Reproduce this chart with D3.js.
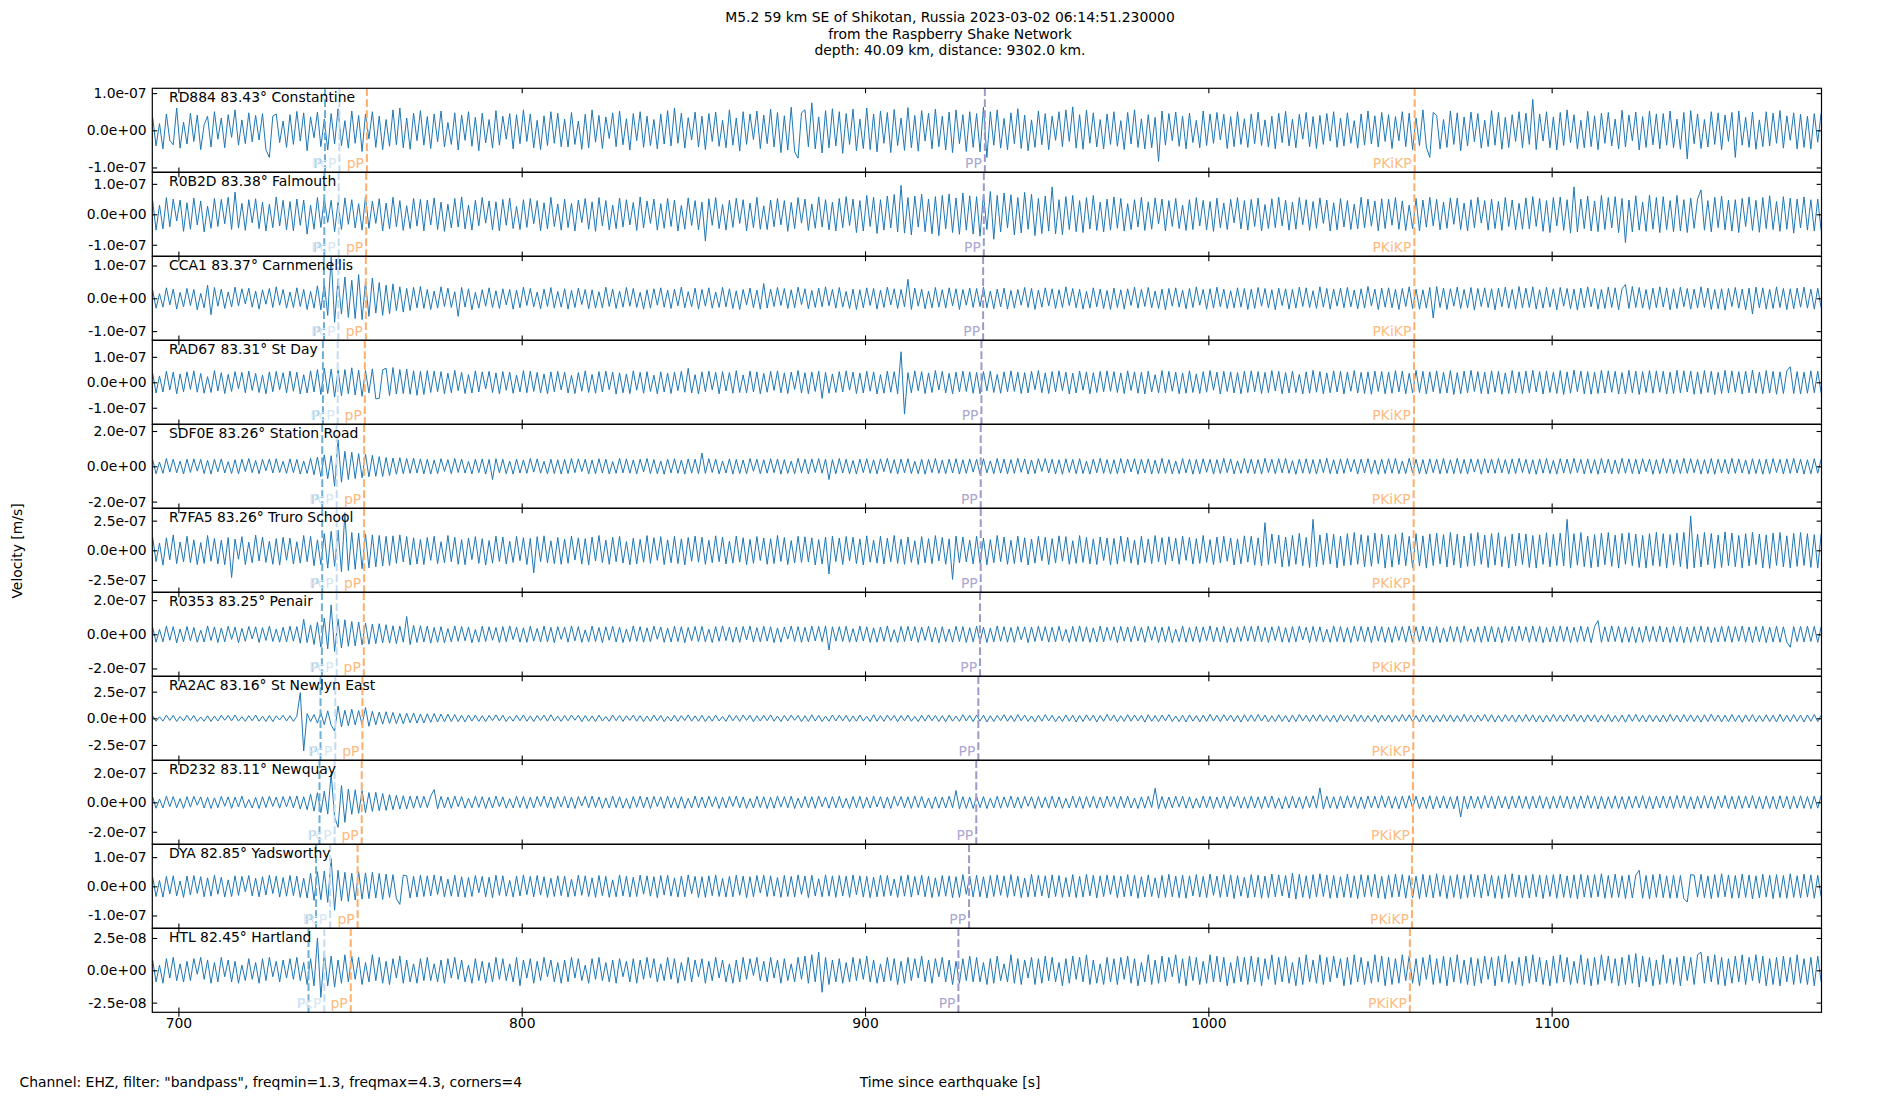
<!DOCTYPE html>
<html>
<head>
<meta charset="utf-8">
<title>M5.2 59 km SE of Shikotan - Raspberry Shake traces</title>
<script src="https://d3js.org/d3.v7.min.js"></script>
<style>
  body { margin: 0; background: #fff; }
  text { font-family: "DejaVu Sans", sans-serif; }
</style>
</head>
<body>
<svg id="chart" width="1900" height="1100"></svg>

<script>
// stations, top to bottom
const stations = ["RD884", "R0B2D", "CCA1", "RAD67", "SDF0E", "R7FA5", "R0353", "RA2AC", "RD232", "DYA", "HTL"];
const distances = ["83.43", "83.38", "83.37", "83.31", "83.26", "83.26", "83.25", "83.16", "83.11", "82.85", "82.45"];
const places = ["Constantine", "Falmouth", "Carnmenellis", "St Day", "Station Road", "Truro School",
                "Penair", "St Newlyn East", "Newquay", "Yadsworthy", "Hartland"];

// half range of each panel and its tick value, nm/s
const yLimits = [113, 138, 128, 165, 238, 354, 246, 394, 285, 144, 32.5];
const yTickValues = [100, 100, 100, 100, 200, 250, 200, 250, 200, 100, 25];

const xTicks = [700, 800, 900, 1000, 1100];

// phase arrivals per station [s since earthquake]
const timesP     = [742.7, 742.5, 742.4, 742.1, 741.9, 741.9, 741.8, 741.4, 741.1, 740.1, 737.9];
const timesPcP   = [746.9, 746.7, 746.6, 746.4, 746.1, 746.1, 746.1, 745.7, 745.5, 744.2, 742.5];
const timespP    = [754.9, 754.7, 754.6, 754.3, 754.1, 754.1, 754.0, 753.6, 753.4, 752.2, 750.2];
const timesPP    = [934.9, 934.6, 934.4, 933.9, 933.7, 933.7, 933.5, 933.0, 932.4, 930.3, 927.2];
const timesPKiKP = [1060.1, 1060.0, 1060.0, 1059.9, 1059.8, 1059.8, 1059.8, 1059.7, 1059.6, 1059.3, 1058.7];

const phaseNames = ["P", "PcP", "pP", "PP", "PKiKP"];
const phaseLineColors = ["#6baed6", "#c6dbef", "#fdae6b", "#9e9ac8", "#fdae6b"];
const phaseTextColors = ["#9ecae1", "#d6e6f4", "#fdb87c", "#aba7d2", "#fdbb80"];

// trace peaks in nm/s, one value per second starting at 692.5 s (40 s per row)
const traceStart = 692.5, traceStep = 1;

const traceRD884 = [
  35,-42,18,-50,44,-27,-39,60,-48,22,-37,46,-30,41,-52,15,38,-45,50,-24,33,-47,42,-19,55,-40,28,-36,47,-31,40,-26,45,-52,-73,38,44,-33,25,-46,
  42,-38,51,-29,47,-55,36,-20,49,-44,30,-53,45,-37,58,-41,26,-48,52,-35,40,-57,44,-23,50,-46,38,-52,29,-43,55,-39,60,-47,33,-51,46,-28,53,-40,
  37,-49,44,-31,52,-45,21,-38,47,-53,41,-27,50,-43,35,-55,46,-34,29,-48,53,-40,38,-24,45,-50,42,-36,55,-30,44,-47,27,-52,39,-41,50,-35,46,-44,
  30,-45,48,-38,25,-51,43,-47,55,-32,40,-49,36,-22,47,-44,52,-39,31,-53,45,-28,50,-46,38,-41,29,-50,44,-37,53,-42,60,-35,46,-48,34,-26,49,-45,
  38,-52,45,-30,49,-43,27,-47,55,-40,33,-56,50,-38,44,-25,52,-49,41,-36,57,-45,48,-60,39,-53,62,-58,-75,47,55,-44,74,-50,36,-61,53,-47,58,-42,
  50,-62,45,-38,57,-55,30,-49,60,-52,44,-58,52,-35,48,-60,56,-41,33,-54,61,-47,40,-56,53,-29,46,-50,57,-44,38,-53,49,-60,55,-36,42,-57,50,-46,
  45,-58,62,-73,50,-40,55,-48,32,-52,47,-36,58,-49,41,-55,28,-46,52,-39,45,-52,38,-27,50,-44,55,-30,63,-48,42,-51,54,-35,47,-45,29,-50,44,-38,
  50,-43,26,-52,48,-37,55,-46,31,-50,42,-47,35,-84,52,-40,45,-28,49,-43,38,-50,46,-33,27,-47,52,-41,44,-35,48,-26,43,-49,37,-44,50,-38,31,-46,
  44,-36,49,-41,28,-45,38,-50,46,-33,51,-42,30,-47,43,-24,48,-44,37,-49,40,-38,45,-29,50,-46,33,-42,47,-35,26,-48,44,-40,52,-37,39,-45,48,-30,
  42,-49,37,-28,50,-44,46,-52,33,-41,55,-45,-73,48,40,-50,29,-46,52,-38,47,-55,36,-42,49,-31,45,-48,27,-44,53,-40,48,-51,35,-46,42,-30,50,-47,
  46,-38,83,-52,44,-29,50,-47,36,-53,48,-41,55,-33,42,-50,27,-47,51,-44,39,-52,46,-35,48,-42,30,-50,54,-45,41,-28,49,-53,37,-46,52,-39,44,-50,
  45,-40,52,-47,30,-51,48,-77,53,-36,44,-49,29,-45,50,-38,47,-52,41,-30,48,-73,52,-40,35,-46,49,-51,28,-44,50,-42,46,-35,53,-48,39,-27,47,-50,
  43,-46,38,-50,45,-32,47
];

const traceR0B2D = [
  45,-52,30,-48,55,-41,50,-22,47,-56,38,-49,53,-35,44,-58,27,-46,52,-40,49,-31,56,-50,73,-45,36,-53,48,-28,51,-47,40,-55,33,-44,57,-38,46,-51,
  42,-54,50,-36,47,-65,30,-49,55,-43,52,-27,46,-57,39,-50,54,-33,48,-45,35,-52,58,-46,43,-30,51,-55,37,-48,56,-41,45,-53,28,-47,52,-39,49,-54,
  47,-35,54,-50,40,-56,33,-45,52,-42,57,-48,30,-52,46,-38,55,-29,44,-51,41,-55,49,-36,53,-47,26,-50,48,-43,52,-31,45,-54,38,-48,56,-40,34,-52,
  50,-44,36,-55,47,-27,52,-49,41,-56,55,-38,45,-51,30,-47,53,-42,48,-35,39,-53,57,-45,44,-30,50,-52,35,-46,52,-40,47,-55,29,-49,54,-37,45,-51,
  40,-88,51,-36,55,-47,32,-52,46,-43,53,-30,48,-55,37,-44,56,-49,28,-50,47,-41,52,-35,45,-56,39,-47,55,-29,50,-53,34,-46,57,-42,48,-51,40,-55,
  52,-44,58,-37,50,-60,45,-55,62,-40,56,-63,48,-52,60,-45,65,-58,95,-62,55,-68,60,-42,66,-57,50,-64,58,-70,62,-48,67,-60,54,-66,70,-52,61,-65,
  58,-72,66,-50,75,-82,62,-58,70,-45,64,-68,55,-61,72,-49,66,-70,52,-63,60,-55,90,-64,48,-67,58,-50,62,-57,45,-60,55,-48,62,-53,40,-58,50,-52,
  57,-46,52,-55,35,-50,48,-42,56,-53,41,-49,54,-32,50,-55,45,-40,52,-47,30,-53,48,-50,55,-38,46,-51,42,-56,53,-44,37,-50,49,-28,55,-48,45,-52,
  49,-40,53,-55,32,-47,51,-44,56,-38,46,-52,40,-49,55,-34,48,-53,42,-46,54,-30,47,-55,38,-51,52,-42,45,-50,33,-48,56,-45,50,-39,44,-54,51,-47,
  50,-36,55,-49,44,-53,30,-47,52,-55,47,-42,56,-38,49,-51,40,-46,54,-33,53,-50,37,-55,48,-44,56,-29,45,-52,50,-47,42,-53,55,-40,47,-51,36,-49,
  54,-48,58,-40,52,-56,45,-60,55,-38,57,-53,48,-62,90,-58,50,-47,60,-55,44,-57,62,-50,55,-45,58,-60,52,-93,47,-58,61,-52,40,-56,63,-49,55,-60,
  58,-50,45,-57,62,-55,48,-60,53,-46,50,80,-52,45,-58,56,-44,60,-51,47,-55,48,-60,52,-40,57,-53,46,-59,55,-47,61,-50,42,-56,58,-49,53,-62,50,
  -45,57,-52,48,-55,50,-53
];

const traceCCA1 = [
  25,-30,14,-27,32,-20,28,-33,18,-26,30,-22,27,-35,15,-29,40,-50,33,-24,28,-31,19,-26,34,-23,29,-17,31,-27,22,-33,26,-18,30,-28,35,-21,27,-30,
  19,-28,32,-25,27,-34,21,-30,38,-35,45,-52,125,-73,60,-48,65,-58,55,-62,72,-65,50,-55,62,-45,48,-52,40,-47,44,-38,35,-42,30,-37,33,-29,36,-31,
  27,-34,22,-30,35,-25,31,-28,20,-55,33,-27,29,-35,18,-30,26,-24,32,-28,23,-31,29,-20,27,-33,25,-29,34,-22,30,-26,19,-32,28,-25,33,-30,21,-27,
  29,-33,24,-28,31,-19,27,-32,26,-30,20,-29,34,-25,28,-31,22,-27,33,-24,30,-28,18,-33,26,-30,29,-21,32,-27,25,-31,28,-23,34,-29,20,-26,31,-33,
  27,-24,32,-30,19,-28,33,-26,29,-31,23,-34,27,-20,31,-29,25,-33,45,-30,28,-25,33,-22,30,-31,26,-29,34,-19,29,-32,24,-28,31,-26,35,-23,27,-30,
  33,-27,21,-31,28,-34,26,-29,32,-22,30,-33,25,-28,34,-20,29,-31,27,-26,58,-34,31,-24,28,-32,22,-29,33,-27,26,-30,32,-23,29,-34,27,-21,31,-28,
  30,-25,34,-29,22,-32,28,-26,31,-33,24,-30,27,-21,33,-28,30,-34,25,-27,32,-23,29,-31,26,-28,35,-22,30,-29,27,-33,21,-30,32,-26,28,-31,24,-34,
  31,-28,26,-33,29,-22,34,-30,27,-25,33,-29,22,-31,28,-35,30,-24,32,-27,25,-32,30,-28,35,-21,27,-33,29,-30,34,-26,28,-31,23,-29,32,-27,30,-34,
  28,-31,33,-24,30,-29,26,-35,31,-22,29,-33,27,-30,34,-25,32,-28,23,-31,35,-27,30,-33,28,-24,31,-29,33,-26,25,-32,29,-30,36,-23,28,-34,31,-27,
  32,-29,27,-34,30,-25,35,-31,28,-33,26,-30,33,-60,36,-28,31,-34,29,-24,34,-31,27,-29,33,-36,30,-25,32,-28,29,-35,31,-26,34,-30,27,-33,36,-29,
  31,-28,35,-33,26,-30,34,-27,29,-35,33,-24,30,-32,28,-36,31,-29,35,-26,30,-33,27,-31,34,-28,32,-35,29,42,-31,36,-28,33,-30,27,-34,31,-29,35,
  -27,32,-35,29,-31,34,-26,30,-33,28,-30,35,-28,31,-34,27,-32,29,-36,30,-25,33,-30,28,-35,31,-48,34,-29,32,-33,27,-31,35,-28,30,-34,29,-32,31,
  -27,34,-30,28,-33,31,-29
];

const traceRAD67 = [
  36,-42,25,-38,44,-30,40,-45,33,-37,41,-28,45,-39,35,-43,22,-40,46,-34,38,-44,31,-36,42,-25,39,-41,44,-32,35,-40,28,-45,41,-37,43,-29,38,-42,
  44,-35,40,-46,30,-42,45,-38,50,-48,55,-44,52,-58,47,-53,50,-45,57,-50,48,-55,46,-42,53,-65,-63,49,55,-52,58,-46,50,-44,52,-47,45,-51,43,-48,
  46,-40,44,-37,42,-45,36,-41,47,-33,39,-44,30,-42,45,-38,41,-26,43,-40,37,-45,42,-31,40,-43,28,-38,46,-41,44,-36,39,-42,33,-45,41,-37,43,-30,
  40,-42,27,-44,38,-35,45,-40,31,-43,42,-38,44,-29,40,-46,37,-41,33,-44,45,-31,39,-43,42,-36,28,-45,41,-38,36,-44,40,-33,43,-39,55,-42,30,-46,
  41,-37,44,-30,39,-45,42,-34,38,-43,46,-40,29,-42,44,-38,41,-45,35,-39,43,-32,45,-41,37,-44,40,-28,46,-42,38,-45,41,-36,44,-63,39,-43,33,-40,
  42,-38,45,-31,40,-44,36,-42,43,-35,41,-46,30,-43,44,-39,42,-45,120,-125,38,-41,45,-33,42,-44,37,-40,46,-30,43,-42,35,-45,40,-38,44,-36,41,-43,
  39,-45,42,-34,44,-40,31,-43,41,-37,45,-36,40,-44,38,-42,43,-29,46,-41,37,-44,42,-38,45,-33,40,-46,36,-42,44,-31,41,-45,38,-40,43,-37,45,-35,
  42,-40,37,-44,45,-32,41,-43,39,-46,44,-38,30,-42,46,-41,43,-35,40,-45,37,-43,45,-40,33,-44,42,-39,46,-31,40,-46,43,-36,41,-42,38,-45,44,-40,
  45,-37,42,-44,39,-41,46,-34,43,-45,38,-42,44,-40,31,-46,41,-43,47,-39,42,-45,37,-41,45,-38,43,-46,40,-35,46,-42,39,-44,41,-47,44,-36,42,-45,
  40,-43,46,-38,44,-45,35,-42,47,-40,43,-46,41,-37,45,-44,39,-42,46,-48,38,-45,44,-41,47,-36,42,-44,40,-46,45,-39,43,-47,37,-44,46,-42,41,-45,
  44,-41,47,-38,42,-46,45,-40,39,-44,46,-48,41,-43,48,-37,44,-45,42,-47,40,-44,47,-42,45,-39,43,-46,38,-45,47,-41,44,-48,42,-40,46,-43,45,-39,
  43,-46,40,-44,47,-42,45,-38,44,-47,41,-45,46,-40,43,-48,39,-44,47,-42,45,-39,42,-46,44,-41,48,-43,40,-45,46,-42,43,-47,41,-44,45,61,-44,42,
  -46,40,-43,45,-41,44,-42
];

const traceSDF0E = [
  38,-42,24,-40,44,-33,41,-37,29,-43,40,-35,42,-27,39,-41,34,-44,40,-31,42,-38,26,-41,37,-43,40,-30,44,-36,33,-42,39,-25,41,-38,43,-35,28,-40,
  42,-36,39,-44,30,-41,45,-48,52,-58,65,-70,60,-113,150,-90,85,-75,80,-70,72,-65,68,-60,62,-57,55,-58,50,-52,47,-45,49,-42,44,-40,46,-38,42,-43,
  40,-44,36,-41,43,-29,38,-42,44,-35,41,-38,27,-43,40,-36,42,-44,39,-75,43,-37,40,-42,30,-44,41,-38,36,-40,44,-33,42,-39,28,-43,40,-41,37,-44,
  39,-41,44,-36,42,-30,40,-43,35,-42,43,-38,41,-44,27,-40,45,-37,42,-39,36,-43,40,-32,44,-41,38,-42,29,-45,41,-37,43,-40,35,-44,42,-39,40,-42,
  75,-40,44,-35,41,-43,30,-38,42,-44,39,-41,36,-43,44,-28,40,-42,37,-39,43,-36,41,-44,38,-40,29,-42,45,-37,40,-43,42,-35,44,-39,41,-75,38,-42,
  44,-38,40,-42,33,-44,41,-36,43,-40,37,-43,42,-30,45,-39,38,-44,41,-37,43,-41,28,-42,40,-45,39,-36,44,-40,35,-42,41,-38,43,-44,37,-40,42,-33,
  40,-45,43,-37,31,-42,44,-39,41,-43,38,-40,45,-34,42,-44,36,-41,43,-29,44,-38,40,-43,37,-45,42,-35,39,-42,43,-41,29,-44,41,-37,45,-40,38,-43,
  37,-42,44,-39,41,-32,43,-45,40,-38,42,-44,35,-41,45,-40,38,-43,30,-42,44,-37,41,-45,39,-42,43,-34,40,-44,38,-41,45,-36,42,-43,31,-40,44,-39,
  41,-43,38,-44,45,-35,40,-42,43,-37,44,-40,32,-45,41,-39,43,-42,38,-44,40,-36,45,-41,37,-43,42,-40,44,-31,39,-44,41,-38,43,-42,36,-45,40,-41,
  43,-39,44,-42,30,-41,45,-38,40,-43,38,-44,42,-36,41,-43,44,-40,37,-42,45,-41,39,-44,42,-33,40,-45,43,-38,41,-40,44,-37,38,-43,42,-41,45,-35,
  40,-43,37,-45,42,-39,44,-41,33,-44,43,-38,41,-42,45,-36,39,-44,42,-40,38,-45,44,-37,41,-43,36,-42,45,-39,42,-41,40,-44,43,-30,41,-45,38,-42,
  44,-39,42,-43,37,-41,45,-40,43,-36,40,-44,38,-42,44,-45,41,-37,39,-43,45,-40,42,-38,36,-44,43,-41,40,-45,41,-42,44,-35,39,-43,42,-40,45,-38,
  40,-44,37,-42,43,-39,41
];

const traceR7FA5 = [
  110,-95,60,-125,105,-80,130,-112,70,-98,118,-104,88,-120,65,-110,125,-92,100,-115,85,-122,108,-230,95,-75,115,-120,68,-105,128,-90,112,-102,76,-118,98,-125,110,-84,
  102,-115,72,-108,125,-96,118,-130,88,-120,140,-150,160,-135,170,-180,317,-170,150,-160,145,-155,138,-148,130,-140,125,-132,118,-128,122,-110,130,-98,115,-124,105,-116,92,-120,
  108,-85,118,-112,72,-105,125,-96,110,-118,90,-122,104,-78,115,-110,98,-125,82,-108,120,-94,112,-115,76,-102,118,-88,106,-120,100,-190,115,-96,122,-105,80,-112,108,-118,
  95,-110,120,-82,105,-116,98,-124,112,-90,125,-104,86,-118,110,-96,118,-108,74,-122,102,-115,92,-100,124,-110,106,-85,115,-120,88,-105,118,-112,96,-124,108,-92,120,-100,
  110,-118,84,-104,122,-96,112,-115,78,-108,120,-100,106,-122,92,-110,116,-86,104,-118,98,-112,125,-94,108,-120,82,-106,118,-102,114,-98,105,-124,90,-116,112,-200,120,-95,
  104,-120,116,-88,110,-112,96,-124,122,-100,86,-108,118,-115,102,-96,125,-110,94,-118,112,-102,80,-120,115,-106,98,-112,124,-90,108,-118,96,-245,120,-105,112,-98,86,-115,
  118,-110,102,-122,90,-104,125,-96,112,-118,84,-112,120,-100,106,-124,95,-108,118,-88,110,-120,98,-106,122,-92,115,-118,80,-110,124,-102,108,-115,96,-120,112,-86,104,-122,
  100,-116,120,-94,110,-108,86,-122,118,-104,96,-112,124,-98,106,-120,114,-90,102,-118,120,-85,108,-116,98,-110,125,-102,90,-120,112,-106,118,-92,104,-124,96,-114,122,-100,
  118,-125,105,-132,233,-120,138,-110,128,-140,112,-135,125,-118,142,-130,108,-145,261,-138,130,-122,145,-115,135,-148,120,-130,140,-125,150,-118,132,-140,125,-135,145,-112,138,-150,
  128,-142,135,-120,148,-130,118,-145,140,-132,122,-150,138,-128,145,-115,132,-140,150,-125,135,-148,120,-136,142,-130,150,-118,128,-145,140,-125,148,-138,115,-150,136,-132,145,-120,
  138,-145,125,-150,130,-118,148,-140,135,-128,145,-132,261,-150,140,-125,150,-138,120,-148,132,-140,145,-122,150,-135,128,-150,142,-118,148,-130,136,-145,125,-150,140,-128,152,-135,
  140,-150,132,-125,145,-138,150,-155,290,-148,135,-140,150,-122,142,-152,128,-145,155,-130,146,-138,125,-150,140,-132,152,-120,138,-148,130,-152,145,-128,150,-140,122,-148,142,-135,
  150,-128,140,-145,132,-150,138
];

const traceR0353 = [
  42,-46,28,-44,48,-35,45,-50,31,-43,46,-38,40,-47,24,-45,49,-36,43,-48,37,-44,47,-30,42,-49,35,-41,46,-27,44,-48,39,-36,48,-42,30,-46,41,-45,
  47,-40,45,-52,88,-48,55,-60,70,-75,95,-85,172,-100,90,-80,85,-70,75,-68,72,-62,66,-58,60,-55,62,-50,56,-52,50,-55,48,-46,104,-60,52,-48,50,-45,
  48,-52,40,-47,45,-50,33,-44,49,-41,46,-38,43,-49,28,-46,47,-42,44,-35,40,-48,45,-43,49,-31,42,-46,38,-47,47,-40,34,-45,48,-44,41,-49,45,-30,
  43,-46,49,-38,45,-47,26,-44,48,-42,40,-49,44,-35,47,-45,42,-48,31,-43,49,-41,45,-46,38,-44,48,-29,43,-47,36,-45,47,-42,44,-49,40,-38,46,-43,
  46,-44,30,-48,45,-41,49,-37,43,-46,42,-47,46,-33,48,-45,39,-44,47,-40,44,-49,37,-46,43,-28,48,-42,45,-47,41,-45,48,-39,46,-43,49,-92,44,-40,
  45,-42,47,-46,33,-45,48,-40,44,-47,38,-46,43,-41,49,-44,27,-48,46,-42,47,-39,45,-47,42,-36,48,-45,40,-49,44,-43,31,-46,47,-42,45,-48,39,-44,
  47,-45,42,-48,36,-44,49,-41,45,-46,40,-47,46,-32,44,-49,43,-42,48,-38,45,-46,41,-44,47,-40,29,-48,46,-43,49,-42,44,-47,38,-45,48,-44,42,-36,
  44,-48,46,-40,43,-45,49,-39,41,-47,47,-35,45,-48,42,-44,46,-49,30,-43,48,-46,40,-42,45,-47,44,-38,49,-45,41,-44,47,-48,36,-46,43,-42,48,-40,
  46,-43,49,-45,41,-48,44,-37,47,-46,39,-47,45,-44,48,-33,42,-49,46,-42,44,-45,30,-47,49,-43,45,-46,40,-48,47,-41,46,-44,43,-49,48,-40,45,-47,
  42,-48,47,-36,45,-46,49,-43,44,-45,48,-40,43,-47,46,-49,38,-44,47,-42,45,-48,49,-41,32,-46,44,-47,48,-43,46,-45,42,-49,47,-40,45,-44,49,-38,
  44,-47,48,-42,46,-49,40,-45,47,-44,49,-43,45,-48,42,-46,48,-41,44,-49,46,80,-47,44,-45,49,-42,47,-48,43,-46,45,-49,41,-47,48,-44,46,-43,49,
  -45,42,-48,47,-44,46,-49,43,-47,45,-42,48,-46,44,-49,40,-45,47,-43,49,-47,45,-41,48,-46,43,-48,46,-44,47,-49,42,-45,48,-47,44,-46,-76,45,-43,
  47,-45,48,-42,46,-47,44
];

const traceRA2AC = [
  25,-28,14,-26,30,-20,27,-29,17,-25,28,-22,26,-30,12,-27,24,-29,21,-26,29,-18,27,-24,31,-26,15,-28,25,-23,30,-27,20,-29,26,-31,23,-16,28,-25,
  24,-29,20,240,-306,45,-30,35,-45,52,-60,70,-65,-120,115,-80,75,-70,85,-62,72,-58,100,-75,66,-60,58,-55,62,-48,55,-50,45,-52,48,-42,50,-45,40,-44,
  42,-38,45,-35,40,-33,38,-30,35,-32,28,-34,31,-26,30,-29,24,-31,27,-22,32,-25,28,-30,19,-27,29,-24,31,-28,23,-30,26,-21,29,-27,33,-25,20,-29,
  27,-24,30,-18,28,-31,25,-27,22,-30,29,-26,16,-28,31,-23,27,-30,24,-20,30,-27,25,-32,21,-28,29,-24,27,-31,18,-26,30,-29,25,-22,32,-27,23,-28,
  28,-31,22,-27,30,-25,17,-29,33,-24,26,-28,31,-20,29,-32,24,-26,28,-23,32,-27,21,-30,27,-25,30,-19,26,-31,24,-29,33,-26,28,-30,20,-27,31,-25,
  29,-24,27,-32,22,-28,31,-26,19,-30,33,-27,25,-29,30,-21,28,-33,26,-24,30,-28,18,-31,29,-26,32,-23,27,-30,25,-33,30,-27,21,-29,34,-25,28,-31,
  31,-26,29,-34,24,-30,27,-22,33,-28,26,-31,35,-24,30,-29,22,-33,28,-27,34,-25,28,-32,20,-30,31,-27,29,-35,27,-29,32,-23,30,-34,26,-28,35,-25,
  30,-33,24,-29,34,-27,31,-25,28,-36,33,-28,26,-32,30,-24,35,-30,22,-31,29,-35,32,-27,25,-33,30,-29,36,-26,28,-31,34,-24,31,-30,27,-35,33,-28,
  32,-29,35,-26,30,-34,24,-31,33,-28,27,-35,31,-30,36,-25,29,-33,32,-27,34,-28,25,-32,30,-36,33,-26,28,-31,35,-30,29,-34,26,-29,32,-37,30,-27,
  31,-34,28,-30,36,-27,33,-32,25,-35,34,-29,30,-36,27,-31,35,-28,32,-33,26,-32,37,-30,29,-34,31,-26,36,-29,33,-35,28,-31,34,-27,30,-36,32,-30,
  35,-29,32,-34,27,-36,31,-30,37,-28,30,-33,34,-26,36,-31,29,-35,33,-27,32,-36,28,-30,35,-33,26,-32,31,-37,34,-28,37,-31,29,-34,33,-30,27,-35,
  31,-33,36,-28,30,-35,34,-29,32,-31,28,-36,33,-30,37,-27,31,-34,29,-32,35,-29,30,-37,32,-28,34,-33,27,-30,33,-31,29,-35,36,-30,28,-32,34,-29,
  30,-34,32,-28,35,-31,29
];

const traceRD232 = [
  36,-40,22,-38,42,-30,39,-37,25,-41,38,-33,40,-20,37,-39,34,-42,30,-36,40,-27,37,-41,35,-32,42,-38,19,-39,33,-42,38,-35,41,-28,36,-40,39,-31,
  40,-37,43,-45,38,-50,55,-60,65,-70,75,-80,193,-100,-170,114,-136,90,-82,85,-75,80,-70,66,-62,68,-58,60,-55,52,-50,48,-46,44,-45,42,-40,43,-38,41,
  -36,42,86,-44,40,-38,35,-41,42,-30,39,-40,27,-37,41,-35,38,-42,33,-39,42,-31,37,-40,24,-38,41,-36,39,-42,34,-39,40,-28,42,-37,36,-41,38,-33,
  41,-38,35,-42,39,-25,40,-37,42,-35,37,-41,30,-39,42,-36,38,-40,26,-42,39,-34,41,-38,36,-42,40,-29,37,-41,42,-37,33,-40,38,-41,27,-39,42,-36,
  36,-39,41,-30,38,-42,35,-37,40,-28,42,-38,37,-41,25,-39,41,-36,38,-42,34,-40,42,-33,39,-37,41,-42,28,-38,40,-36,38,-41,42,-30,36,-40,39,-37,
  41,-38,27,-42,39,-36,40,-41,35,-39,42,-32,38,-40,36,-42,41,-26,39,-37,37,-41,42,-35,40,-38,29,-42,38,-40,36,-39,42,-37,80,-44,38,-41,35,-42,
  40,-36,39,-42,28,-38,41,-40,37,-35,42,-39,36,-41,40,-27,38,-42,39,-37,35,-40,42,-38,37,-41,26,-39,42,-36,39,-42,38,-35,41,-40,36,-38,42,-30,
  38,-41,40,-36,42,-39,29,-42,37,-40,41,-35,95,-45,39,-42,36,-38,41,-33,42,-40,37,-41,28,-39,42,-37,40,-42,36,-38,41,-43,39,-30,42,-40,37,-41,
  41,-39,37,-42,40,-36,43,-41,30,-44,39,-40,42,-38,36,-43,41,-37,44,-40,98,-46,42,-40,38,-43,41,-39,44,-36,40,-42,37,-44,43,-38,41,-40,45,-35,
  43,-41,39,-44,42,-40,45,-38,41,-43,36,-42,44,-45,40,-39,43,-41,38,-44,42,-100,41,-45,43,-40,39,-42,45,-37,41,-44,43,-38,40,-45,42,-39,44,-41,
  40,-44,42,-39,45,-41,38,-43,42,-40,44,-38,41,-45,39,-42,43,-40,46,-41,42,-45,40,-43,38,-41,44,-42,39,-46,41,-40,43,-38,45,-42,40,-44,41,-39,
  43,-40,41,-42,46,-39,44,-43,38,-45,42,-41,45,-40,39,-44,43,-37,46,-42,40,-45,44,-41,42,-38,45,-43,39,-44,43,-42,40,-46,44,-39,41,-45,42,-40,
  44,-41,39,-43,42,-40,45
];

const traceDYA = [
  32,-35,20,-37,34,-26,36,-33,18,-38,35,-30,37,-24,33,-36,29,-34,38,-27,31,-37,22,-35,36,-31,34,-19,37,-33,28,-36,33,-30,38,-25,35,-37,30,-34,
  37,-32,35,-38,28,-40,45,-48,50,-46,52,-55,95,-82,55,-50,48,-52,45,-47,50,-44,46,-42,48,-40,44,-45,42,-38,40,-43,-62,38,36,-40,34,-37,38,-35,
  36,-33,39,-28,35,-37,25,-34,38,-36,33,-38,30,-35,37,-22,34,-36,31,-39,38,-31,36,-34,20,-37,35,-33,39,-29,34,-36,37,-30,33,-38,28,-35,36,-32,
  35,-37,24,-34,38,-31,36,-35,29,-38,37,-32,34,-38,22,-36,39,-33,35,-37,31,-35,38,-27,36,-34,33,-39,37,-30,38,-34,29,-37,35,-36,39,-25,34,-38,
  33,-38,36,-32,39,-35,27,-37,34,-36,38,-31,35,-39,33,-36,37,-23,38,-35,36,-34,30,-38,37,-35,34,-37,39,-28,35,-39,38,-33,26,-36,39,-34,36,-38,
  37,-33,35,-38,39,-29,36,-37,34,-39,31,-36,38,-35,37,-32,25,-38,36,-34,39,-37,34,-30,38,-36,35,-39,29,-35,37,-34,36,-39,33,-38,40,-27,35,-37,
  38,-36,33,-40,37,-35,39,-31,36,-38,40,-34,35,-39,28,-37,41,-36,38,-33,36,-40,39,-35,37,-38,30,-36,40,-39,34,-37,41,-33,38,-40,36,-35,39,-28,
  37,-39,35,-36,40,-34,38,-41,33,-37,39,-35,29,-40,37,-38,41,-36,35,-39,38,-41,36,-33,40,-37,34,-39,42,-31,35,-38,40,-36,39,-42,37,-34,31,-40,
  40,-37,38,-41,35,-39,42,-36,39,-33,37,-40,45,-44,41,-38,36,-42,40,-37,43,-35,39,-41,37,-40,33,-38,42,-39,36,-42,40,-37,38,-35,41,-40,34,-43,
  39,-38,42,-36,40,-41,37,-39,35,-42,41,-37,38,-40,43,-35,39,-42,36,-38,40,-43,37,-39,41,-36,38,-40,42,-34,38,-41,36,-42,40,-38,43,-37,39,-40,
  37,-40,41,-36,39,-42,38,-35,40,-41,42,-38,36,-40,39,-43,41,-37,38,-39,40,-36,43,-41,37,-39,42,-38,36,-42,39,-40,38,55,-41,37,-43,40,-38,42,
  -39,36,-41,38,-40,37,-42,-54,40,38,-37,41,-39,36,-42,40,-38,43,-36,39,-41,37,-40,42,-38,39,-43,36,-40,41,-37,38,-42,40,-39,37,-41,43,-38,36,
  -40,42,-37,39,-41,38,-36
];

const traceHTL = [
  8,-9,4,-10,9,-6,10,-8,5,-9,7,-8,9,-3,10,-7,8,-10,6,-9,10,-5,8,-9,7,-10,4,-8,9,-7,6,-10,9,-8,10,-5,7,-9,8,-6,
  9,-7,10,-8,6,-11,9,-12,25,-21,14,-12,11,-13,8,-10,12,-9,11,-7,10,-11,6,-9,12,-8,10,-10,7,-11,9,-6,11,-10,8,-9,5,-10,9,-8,
  10,-8,5,-9,8,-10,9,-6,10,-7,8,-9,4,-10,9,-8,7,-10,6,-9,10,-7,9,-8,5,-9,10,-12,8,-6,9,-10,7,-8,10,-5,8,-9,6,-10,
  8,-9,10,-6,9,-8,4,-10,9,-7,10,-8,6,-9,8,-10,9,-5,7,-9,9,-10,8,-7,10,-6,9,-9,5,-8,10,-7,9,-10,6,-8,10,-9,8,-5,
  9,-10,7,-8,10,-6,8,-9,5,-10,8,-9,10,-7,9,-4,10,-8,7,-9,10,-6,8,-10,9,-8,5,-9,10,-7,11,-10,12,-9,14,-17,10,-11,8,-9,
  9,-10,6,-9,10,-8,9,-7,11,-9,8,-10,5,-9,10,-8,9,-11,7,-10,10,-8,9,-6,11,-9,8,-10,9,-5,10,-9,8,-11,7,-10,9,-8,11,-9,
  10,-9,6,-11,9,-10,11,-8,5,-9,12,-10,9,-11,8,-6,10,-11,9,-10,11,-8,10,-9,6,-12,9,-10,11,-7,10,-9,12,-11,8,-10,5,-11,10,-9,
  9,-11,10,-7,11,-10,9,-12,6,-9,12,-11,8,-10,11,-9,10,-5,12,-10,9,-12,11,-8,10,-11,7,-10,12,-9,11,-9,10,-12,6,-10,11,-9,10,-11,
  11,-9,10,-12,9,-7,12,-11,10,-9,11,-10,6,-12,10,-11,12,-9,8,-10,12,-11,10,-9,11,-6,9,-12,10,-11,12,-9,10,-11,7,-10,12,-9,11,-12,
  10,-11,9,-10,12,-8,11,-10,9,-12,10,-7,12,-11,9,-10,11,-12,10,-9,12,-10,8,-11,10,-12,9,-10,11,-7,10,-12,11,-9,12,-10,7,-11,10,-12,
  11,-10,12,-9,10,-11,8,-12,11,-10,12,-9,10,-11,7,-10,12,-11,9,-12,10,-11,12,-8,11,-10,9,-12,10,-11,12,-10,13,-13,11,-9,10,-12,8,-11,
  12,-10,9,-11,10,-12,11,-8,10,-11,12,14,-10,11,-9,12,-11,10,-12,9,-10,11,-9,12,-11,10,-8,12,-10,11,-12,9,-11,10,-12,11,-9,10,-11,12,
  -10,9,-11,10,-12,11,-9
];

const traces = [traceRD884, traceR0B2D, traceCCA1, traceRAD67, traceSDF0E, traceR7FA5,
                traceR0353, traceRA2AC, traceRD232, traceDYA, traceHTL];
const phaseTimes = [timesP, timesPcP, timespP, timesPP, timesPKiKP];

const svg = d3.select("#chart");
svg.append("rect").attr("width", 1900).attr("height", 1100).attr("fill", "#fff");

const left = 152.3, right = 1821.5, top0 = 88.3, panelH = 84;
const fontSize = 13.9;
const tickLen = 4.9;

const x = d3.scaleLinear().domain([692.4, 1178.6]).range([left, right]);

// 1.0e-07 style labels, value given in nm/s
function sci(v) {
    const s = (v * 1e-9).toExponential(1);
    return s.replace(/e([+-])(\d)$/, (m, sg, d) => "e" + sg + "0" + d);
}

function styleAxis(g) {
    g.select(".domain").remove();
    g.selectAll(".tick line").attr("stroke", "#000").attr("stroke-width", 1.1);
    g.selectAll(".tick text").attr("fill", "#000");
    g.attr("font-size", fontSize).attr("font-family", "DejaVu Sans, sans-serif");
}

stations.forEach((name, i) => {
    const top = top0 + i * panelH;
    const y = d3.scaleLinear().domain([-yLimits[i], yLimits[i]]).range([top + panelH, top]);
    const g = svg.append("g");

    svg.append("clipPath").attr("id", "clip" + i)
       .append("rect").attr("x", left).attr("y", top).attr("width", right - left).attr("height", panelH);

    const line = d3.line()
                   .x((d, j) => x(traceStart + j * traceStep))
                   .y(d => y(d));

    g.append("path")
     .datum(traces[i])
     .attr("clip-path", `url(#clip${i})`)
     .attr("fill", "none")
     .attr("stroke", "#1f77b4")
     .attr("stroke-width", 1)
     .attr("stroke-linejoin", "round")
     .attr("d", line);

    // phase markers
    phaseNames.forEach((ph, k) => {
        const px = x(phaseTimes[k][i]);
        g.append("line")
         .attr("x1", px).attr("x2", px)
         .attr("y1", top).attr("y2", top + panelH)
         .attr("stroke", phaseLineColors[k])
         .attr("stroke-width", 2)
         .attr("stroke-dasharray", "7.7,3.3");
        g.append("text")
         .attr("x", px - 3)
         .attr("y", top + panelH - 4)
         .attr("text-anchor", "end")
         .attr("font-size", fontSize)
         .attr("fill", phaseTextColors[k])
         .text(ph);
    });

    // frame
    g.append("rect")
     .attr("x", left).attr("y", top)
     .attr("width", right - left).attr("height", panelH)
     .attr("fill", "none").attr("stroke", "#000").attr("stroke-width", 1.2);

    const yt = [-yTickValues[i], 0, yTickValues[i]];
    g.append("g").attr("transform", `translate(${left},0)`)
     .call(d3.axisLeft(y).tickValues(yt).tickSize(-tickLen).tickPadding(5.6).tickFormat(sci))
     .call(styleAxis);
    g.append("g").attr("transform", `translate(${right},0)`)
     .call(d3.axisRight(y).tickValues(yt).tickSize(-tickLen).tickFormat(""))
     .call(styleAxis);
    g.append("g").attr("transform", `translate(0,${top})`)
     .call(d3.axisTop(x).tickValues(xTicks).tickSize(-tickLen).tickFormat(""))
     .call(styleAxis);

    const last = i === stations.length - 1;
    g.append("g").attr("transform", `translate(0,${top + panelH})`)
     .call(d3.axisBottom(x).tickValues(xTicks).tickSize(-tickLen).tickPadding(5.6)
             .tickFormat(last ? d3.format("d") : ""))
     .call(styleAxis);
    if (last) {
        g.append("g").attr("transform", `translate(0,${top + panelH})`)
         .call(d3.axisBottom(x).tickValues(xTicks).tickSize(4.4).tickFormat(""))
         .call(styleAxis);
    }

    g.append("text")
     .attr("x", left + 16.7)
     .attr("y", top + 13.6)
     .attr("font-size", fontSize)
     .attr("fill", "#000")
     .text(`${name} ${distances[i]}° ${places[i]}`);
});

// titles and labels
const titleLines = ["M5.2 59 km SE of Shikotan, Russia 2023-03-02 06:14:51.230000",
                    "from the Raspberry Shake Network",
                    "depth: 40.09 km, distance: 9302.0 km."];
titleLines.forEach((t, k) => {
    svg.append("text")
       .attr("x", 950).attr("y", 22.3 + k * 16.3)
       .attr("text-anchor", "middle")
       .attr("font-size", fontSize)
       .text(t);
});

svg.append("text")
   .attr("x", 950).attr("y", 1086.5)
   .attr("text-anchor", "middle")
   .attr("font-size", fontSize)
   .text("Time since earthquake [s]");

svg.append("text")
   .attr("x", 19.5).attr("y", 1086.5)
   .attr("font-size", fontSize)
   .text('Channel: EHZ, filter: "bandpass", freqmin=1.3, freqmax=4.3, corners=4');

svg.append("text")
   .attr("transform", "translate(22.3,551) rotate(-90)")
   .attr("text-anchor", "middle")
   .attr("font-size", fontSize)
   .text("Velocity [m/s]");
</script>
</body>
</html>
